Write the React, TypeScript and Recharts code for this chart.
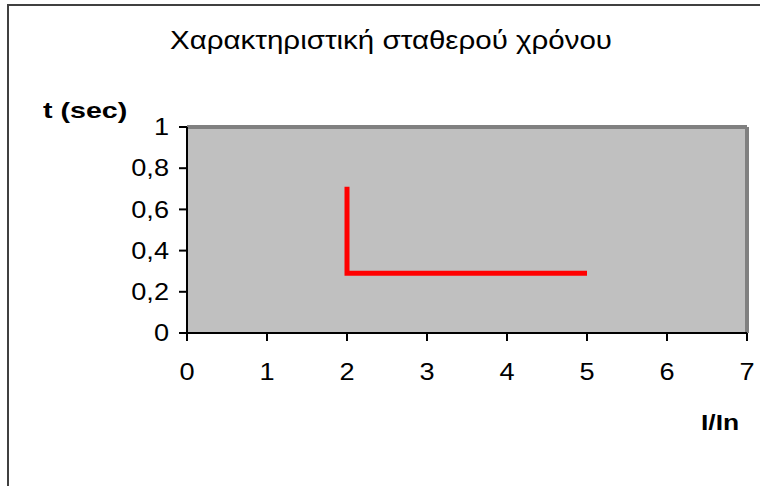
import { LineChart, Line, XAxis, YAxis, ReferenceArea, ReferenceLine } from 'recharts'

// I/In values and trip times (sec) of the constant-time characteristic
const ratio = [2, 2, 5]
const tripTime = [0.71, 0.29, 0.29]
const xTicks = [0, 1, 2, 3, 4, 5, 6, 7]
const yTicks = [0, 0.2, 0.4, 0.6, 0.8, 1]

const title = 'Χαρακτηριστική σταθερού χρόνου'
const yTitle = 't (sec)'
const xTitle = 'I/In'

const font = '"Liberation Sans", Arial, sans-serif'
// the source text is drawn a bit wider than normal Arial
const stretch = 1.18

function XTick(props: any) {
  const { x, y, payload } = props
  return (
    <text
      x={0}
      y={0}
      dy="0.71em"
      textAnchor="middle"
      fill="#000"
      fontSize={23}
      fontFamily={font}
      transform={`translate(${x},${y}) scale(${stretch},1)`}
    >
      {payload.value}
    </text>
  )
}

function YTick(props: any) {
  const { x, y, payload } = props
  return (
    <text
      x={0}
      y={0}
      dy="0.355em"
      textAnchor="end"
      fill="#000"
      fontSize={23}
      fontFamily={font}
      transform={`translate(${x},${y}) scale(${stretch},1)`}
    >
      {String(payload.value).replace('.', ',')}
    </text>
  )
}

export default function App() {
  const chartData = ratio.map((x, i) => ({ x, t: tripTime[i] }))

  return (
    <div
      style={{
        position: 'absolute',
        left: 0,
        top: 0,
        width: 760,
        height: 486,
        overflow: 'hidden',
        background: '#fff',
        fontFamily: font
      }}
    >
      {/* outer chart frame, cut off on the right and bottom */}
      <div
        style={{
          position: 'absolute',
          left: 7,
          top: 4,
          width: 900,
          height: 700,
          borderLeft: '2px solid #404040',
          borderTop: '2px solid #404040'
        }}
      />
      <div
        style={{
          position: 'absolute',
          left: 0,
          width: 782,
          top: 28,
          fontSize: 25,
          lineHeight: '25px',
          textAlign: 'center',
          color: '#000',
          transform: `scaleX(${stretch})`,
          transformOrigin: '391px 0'
        }}
      >
        {title}
      </div>
      <div
        style={{
          position: 'absolute',
          left: 43,
          top: 100,
          fontSize: 22,
          lineHeight: '22px',
          fontWeight: 'bold',
          color: '#000',
          transform: 'scaleX(1.3)',
          transformOrigin: '0 0'
        }}
      >
        {yTitle}
      </div>
      <div
        style={{
          position: 'absolute',
          left: 701,
          top: 412,
          fontSize: 22,
          lineHeight: '22px',
          fontWeight: 'bold',
          color: '#000',
          transform: 'scaleX(1.2)',
          transformOrigin: '0 0'
        }}
      >
        {xTitle}
      </div>
      <div style={{ position: 'absolute', left: 0, top: 0 }}>
        <LineChart
          width={760}
          height={486}
          data={chartData}
          margin={{ top: 127, right: 13, bottom: 123, left: 127 }}
        >
          <ReferenceArea
            x1={0}
            x2={7}
            y1={0}
            y2={1}
            fill="#C0C0C0"
            fillOpacity={1}
            stroke="none"
            ifOverflow="visible"
          />
          <ReferenceLine y={1} stroke="#808080" strokeWidth={4} ifOverflow="visible" />
          <ReferenceLine x={7} stroke="#808080" strokeWidth={4} ifOverflow="visible" />
          <XAxis
            type="number"
            dataKey="x"
            domain={[0, 7]}
            ticks={xTicks}
            height={30}
            tickSize={8}
            tickMargin={23}
            axisLine={{ stroke: '#000', strokeWidth: 2 }}
            tickLine={{ stroke: '#000', strokeWidth: 2 }}
            tick={<XTick />}
          />
          <YAxis
            type="number"
            domain={[0, 1]}
            ticks={yTicks}
            width={60}
            tickSize={8}
            tickMargin={10}
            axisLine={{ stroke: '#000', strokeWidth: 2 }}
            tickLine={{ stroke: '#000', strokeWidth: 2 }}
            tick={<YTick />}
          />
          <Line
            type="linear"
            dataKey="t"
            stroke="#FF0000"
            strokeWidth={5}
            dot={false}
            activeDot={false}
            isAnimationActive={false}
          />
        </LineChart>
      </div>
    </div>
  )
}
